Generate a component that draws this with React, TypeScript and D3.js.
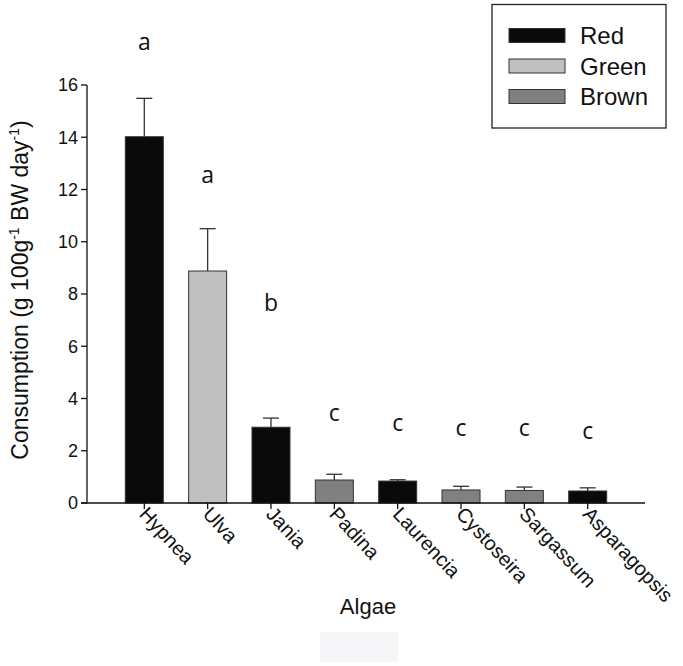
import React from "react";
import * as d3 from "d3";

const categories = ["Hypnea", "Ulva", "Jania", "Padina", "Laurencia", "Cystoseira", "Sargassum", "Asparagopsis"];
const groups = ["Red", "Green", "Red", "Brown", "Red", "Brown", "Brown", "Red"];
const values = [14.02, 8.88, 2.9, 0.88, 0.84, 0.5, 0.48, 0.46];
const errors = [1.47, 1.62, 0.35, 0.22, 0.05, 0.14, 0.13, 0.12];
const letters = ["a", "a", "b", "c", "c", "c", "c", "c"];
const letterValues = [17.5, 12.4, 7.5, 3.3, 2.9, 2.7, 2.7, 2.6];
const yTicks = [0, 2, 4, 6, 8, 10, 12, 14, 16];
const legendGroups = ["Red", "Green", "Brown"];
const groupColors: Record<string, string> = { Red: "#0a0a0a", Green: "#c0c0c0", Brown: "#808080" };

export default function App() {
  const W = 683, H = 666;
  const axisX = 87;
  const axisEnd = 645;
  const x = d3.scalePoint<string>().domain(categories).range([144.3, 587.7]);
  const y = d3.scaleLinear().domain([0, 16]).range([503, 85]);
  const bw = 38;
  const font = "'Liberation Sans', Arial, sans-serif";
  const letterFont = "'Open Sans', 'Noto Sans', sans-serif";
  return (
    <svg width={W} height={H} style={{ position: "absolute", left: 0, top: 0 }} fontFamily={font}>
      <rect x={0} y={0} width={W} height={H} fill="#fff" />
      {categories.map((c, i) => {
        const cx = x(c)!;
        return (
          <g key={c}>
            <line x1={cx} x2={cx} y1={y(values[i])} y2={y(values[i] + errors[i])} stroke="#333" strokeWidth={1.3} />
            <line x1={cx - 8} x2={cx + 8} y1={y(values[i] + errors[i])} y2={y(values[i] + errors[i])} stroke="#333" strokeWidth={1.3} />
            <rect x={cx - bw / 2} y={y(values[i])} width={bw} height={y(0) - y(values[i])}
              fill={groupColors[groups[i]]} stroke="#333" strokeWidth={1} />
            <text x={cx} y={y(letterValues[i]) + 4} textAnchor="middle" fontFamily={letterFont} fontSize={23} fill="#111">{letters[i]}</text>
          </g>
        );
      })}
      <line x1={axisX} x2={axisX} y1={y(16)} y2={y(0)} stroke="#111" strokeWidth={1.3} />
      {yTicks.map((t) => (
        <g key={t}>
          <line x1={axisX - 6} x2={axisX} y1={y(t)} y2={y(t)} stroke="#111" strokeWidth={1.3} />
          <text x={axisX - 9} y={y(t)} dy="0.35em" textAnchor="end" fontSize={18} fill="#111">{t}</text>
        </g>
      ))}
      <line x1={axisX - 6} x2={axisEnd} y1={y(0)} y2={y(0)} stroke="#111" strokeWidth={1.3} />
      {categories.map((c) => {
        const cx = x(c)!;
        return (
          <g key={"t" + c}>
            <line x1={cx} x2={cx} y1={y(0)} y2={y(0) + 6} stroke="#111" strokeWidth={1.3} />
            <text transform={`translate(${cx - 6},${y(0) + 12}) rotate(47)`} fontSize={20} fill="#111">{c}</text>
          </g>
        );
      })}
      <text transform={`translate(28,290) rotate(-90)`} textAnchor="middle" fontSize={23} fill="#111">
        Consumption (g 100g<tspan dy={-9} fontSize={14}>-1</tspan><tspan dy={9}> BW day</tspan><tspan dy={-9} fontSize={14}>-1</tspan><tspan dy={9}>)</tspan>
      </text>
      <text x={368} y={614} textAnchor="middle" fontSize={22} fill="#111">Algae</text>
      <rect x={492} y={4.5} width={174} height={123.5} fill="#fff" stroke="#222" strokeWidth={1.3} />
      {legendGroups.map((g, i) => (
        <g key={g}>
          <rect x={509} y={28.5 + i * 30.5} width={56} height={14} fill={groupColors[g]} stroke="#333" strokeWidth={1} />
          <text x={580} y={35.5 + i * 30.5} dy="0.36em" fontSize={24} fill="#111">{g}</text>
        </g>
      ))}
      <rect x={320} y={632} width={78} height={30} fill="#f6f6f8" />
    </svg>
  );
}
